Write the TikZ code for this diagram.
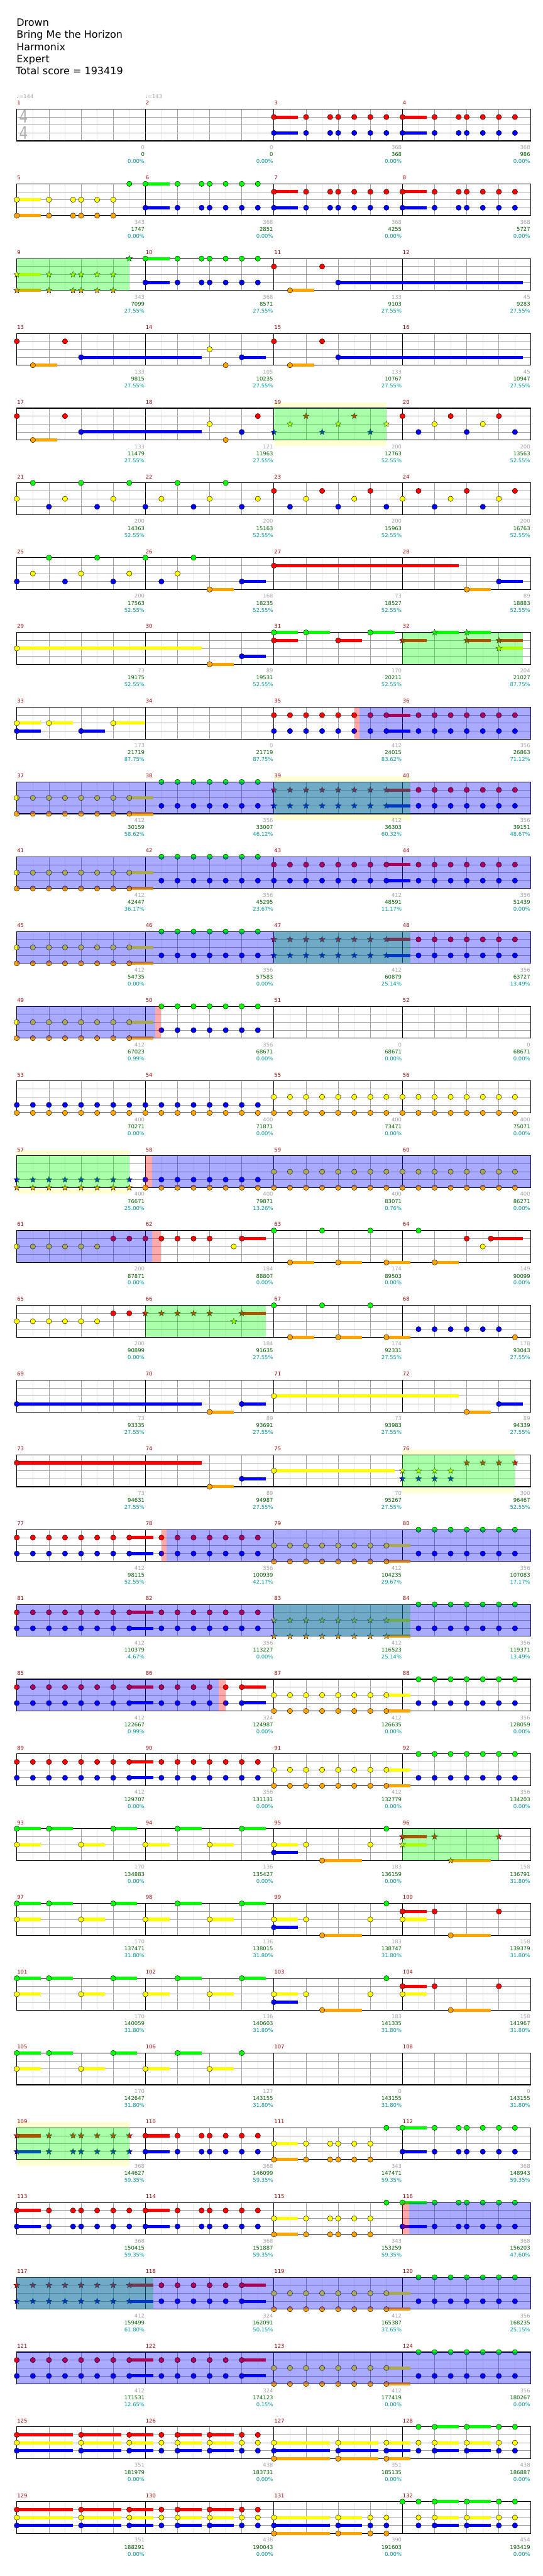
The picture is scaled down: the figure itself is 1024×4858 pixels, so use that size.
\documentclass[tikz,border=0pt]{standalone}
\usepackage{fontspec}
\setmainfont{DejaVu Sans}
\usetikzlibrary{shapes.geometric}
\definecolor{lane0}{RGB}{0,255,0}
\definecolor{lane1}{RGB}{255,0,0}
\definecolor{lane2}{RGB}{255,255,0}
\definecolor{lane3}{RGB}{0,0,255}
\definecolor{lane4}{RGB}{255,165,0}
\definecolor{mred}{RGB}{139,0,0}
\definecolor{sgray}{RGB}{165,165,165}
\definecolor{sgreen}{RGB}{0,100,0}
\definecolor{steal}{RGB}{0,155,155}
\definecolor{eighthc}{RGB}{225,225,225}
\definecolor{beatc}{RGB}{160,160,160}
\definecolor{paley}{RGB}{255,255,210}
\definecolor{tsgray}{RGB}{175,175,175}
\tikzset{
 note/.style={draw=black, line width=0.5pt},
 starn/.style={star, star points=5, star point ratio=2.4, minimum size=12pt, inner sep=0pt, draw=black, line width=0.4pt},
 eline/.style={draw=eighthc, line width=0.8pt},
 bline/.style={draw=beatc, line width=0.8pt},
 lline/.style={draw=beatc, line width=0.9pt},
 barl/.style={draw=black, line width=0.9pt},
 border/.style={draw=black, line width=1.3pt},
 odgreen/.style={fill=lane0, fill opacity=0.3333},
 odblue/.style={fill=lane3, fill opacity=0.3333},
 odred/.style={fill=lane1, fill opacity=0.3333},
 mnum/.style={font=\fontsize{10}{12}\selectfont, text=mred, inner sep=0pt, anchor=base west},
 gnum/.style={font=\fontsize{10}{12}\selectfont, text=sgray, inner sep=0pt, anchor=base east},
 cnum/.style={font=\fontsize{10}{12}\selectfont, text=sgreen, inner sep=0pt, anchor=base east},
 pnum/.style={font=\fontsize{10}{12}\selectfont, text=steal, inner sep=0pt, anchor=base east},
 titletext/.style={font=\fontsize{19}{22}\selectfont, inner sep=0pt, anchor=base west},
 tempotext/.style={font=\fontsize{10}{12}\selectfont, text=sgray, inner sep=0pt, anchor=base west},
 tsig/.style={font=\fontsize{33}{33}\selectfont, text=tsgray, inner sep=0pt},
}
\newcommand\Mpos[1]{%
  \pgfmathtruncatemacro\Mc{mod(#1-1,4)}%
  \pgfmathtruncatemacro\Mr{(#1-1)/4}%
  \pgfmathsetmacro\Mx{31.7+242.6*\Mc}%
  \pgfmathsetmacro\Mt{205.7+141*\Mr}}
\newcommand\Nt[3]{\Mpos{#1}\pgfmathsetmacro\Ly{\Mt+15*#2}%
  \foreach \q in {#3}{\filldraw[note, fill=lane#2] (\Mx+15.1625*\q,\Ly) circle[radius=5];}}
\newcommand\Sr[3]{\Mpos{#1}\pgfmathsetmacro\Ly{\Mt+15*#2}%
  \foreach \q in {#3}{\node[starn, fill=lane#2] at (\Mx+15.1625*\q,\Ly) {};}}
\newcommand\Su[4]{\Mpos{#1}\pgfmathsetmacro\Ly{\Mt+15*#2}%
  \fill[lane#2] (\Mx+15.1625*#3,\Ly-3) rectangle ++(15.1625*#4,6);}
\newcommand\Ov[4]{\Mpos{#2}\fill[#1] (\Mx+15.1625*#3,\Mt) rectangle (\Mx+15.1625*#4,\Mt+60);}
\newcommand\Py[3]{\Mpos{#1}\fill[paley] (\Mx+15.1625*#2,\Mt-10.5) rectangle (\Mx+15.1625*#3,\Mt+71.5);}
% patterns
\newcommand\Qa[2]{\Su{#1}{#2}{0}{3}\Nt{#1}{#2}{0,4,7,8,10,12,14}}
\newcommand\Qas[2]{\Su{#1}{#2}{0}{3}\Sr{#1}{#2}{0,4,7,8,10,12,14}}
\newcommand\Qb[2]{\Su{#1}{#2}{0}{3}\Nt{#1}{#2}{0,4,7,8,10,12}}
\newcommand\Qbs[2]{\Su{#1}{#2}{0}{3}\Sr{#1}{#2}{0,4,7,8,10,12}}
\newcommand\Qe[2]{\Su{#1}{#2}{14}{3}\Nt{#1}{#2}{0,2,4,6,8,10,12,14}}
\newcommand\Qes[2]{\Su{#1}{#2}{14}{3}\Sr{#1}{#2}{0,2,4,6,8,10,12,14}}
\newcommand\Qf[2]{\Nt{#1}{#2}{2,4,6,8,10,12,14}}
\newcommand\Qn[2]{\Nt{#1}{#2}{0,2,4,6,8,10,12,14}}
\newcommand\Qns[2]{\Sr{#1}{#2}{0,2,4,6,8,10,12,14}}
\newcommand\Qg[2]{\Su{#1}{#2}{12}{3}\Nt{#1}{#2}{2,4,6,8,10,12}}
\newcommand\Qh[2]{\Nt{#1}{1}{0,6}\Su{#1}{4}{2}{3}\Nt{#1}{4}{2}\Su{#1}{3}{8}{#2}\Nt{#1}{3}{8}}
\newcommand\Qi[1]{\Su{#1}{0}{0}{3}\Su{#1}{0}{4}{3}\Su{#1}{0}{12}{3}\Nt{#1}{0}{0,4,12}\Su{#1}{2}{0}{3}\Su{#1}{2}{8}{3}\Nt{#1}{2}{0,8}}
\newcommand\Qj[1]{\Su{#1}{0}{4}{3}\Su{#1}{0}{12}{3}\Nt{#1}{0}{4,12}\Su{#1}{2}{0}{3}\Su{#1}{2}{8}{3}\Nt{#1}{2}{0,8}}
\newcommand\Qk[1]{\Su{#1}{2}{0}{3}\Nt{#1}{2}{0,4,12}\Su{#1}{3}{0}{3}\Nt{#1}{3}{0}\Su{#1}{4}{6}{5}\Nt{#1}{4}{6}\Nt{#1}{0}{14}}
\newcommand\Ql[1]{\Su{#1}{1}{0}{3}\Nt{#1}{1}{0,4,12}\Su{#1}{2}{0}{3}\Nt{#1}{2}{0}\Su{#1}{4}{6}{5}\Nt{#1}{4}{6}}
\newcommand\Qm[1]{\Nt{#1}{2}{0,2,4,6,8,10}\Nt{#1}{1}{12,14}}
\newcommand\Qo[1]{\Nt{#1}{0}{0,6,12}\Su{#1}{4}{2}{3}\Su{#1}{4}{8}{3}\Su{#1}{4}{14}{3}\Nt{#1}{4}{2,8,14}}
\newcommand\Qq[1]{\Su{#1}{4}{8}{3}\Nt{#1}{4}{8}\Su{#1}{3}{12}{3}\Nt{#1}{3}{12}}
\newcommand\Qr[2]{\Su{#1}{#2}{0}{7}\Su{#1}{#2}{8}{5}\Su{#1}{#2}{14}{3}\Nt{#1}{#2}{0,8,14}}
\newcommand\Qs[2]{\Su{#1}{#2}{4}{3}\Su{#1}{#2}{8}{3}\Nt{#1}{#2}{2,4,8,12,14}}
\newcommand\Qt[2]{\Su{#1}{#2}{0}{7}\Su{#1}{#2}{8}{3}\Nt{#1}{#2}{0,8,12,14}}
\begin{document}
\begin{tikzpicture}[x=1pt,y=-1pt]
\useasboundingbox[fill=white] (0,0) rectangle (1024,4858);
% pale yellow backgrounds
\Py{19}{0}{14}\Py{39}{0}{17}\Py{57}{0}{14}\Py{76}{0}{14}\Py{109}{0}{14}
% staves
\foreach \r in {0,...,32}{
  \pgfmathsetmacro\Rt{205.7+141*\r}
  \fill[white] (31.7,\Rt) rectangle (1002.1,\Rt+60);
  \foreach \i in {1,3,...,31} \draw[eline] (31.7+30.325*\i,\Rt) -- ++(0,60);
  \foreach \i in {2,4,6,10,12,14,18,20,22,26,28,30} \draw[bline] (31.7+30.325*\i,\Rt) -- ++(0,60);
  \foreach \j in {1,2,3} \draw[lline] (31.7,\Rt+15*\j) -- (1002.1,\Rt+15*\j);
  \foreach \i in {8,16,24} \draw[barl] (31.7+30.325*\i,\Rt) -- ++(0,60);
  \draw[border] (31.7,\Rt) rectangle (1002.1,\Rt+60);
}
% time signature and tempo
\node[tsig] (ts1) at (44.5,220.3) {\scalebox{0.78}[1]{4}};
\node[tsig] (ts2) at (44.5,250.7) {\scalebox{0.78}[1]{4}};
\node[tempotext] (tp1) at (31,185.3) {♩=144};
\node[tempotext] (tp2) at (273.8,185.3) {♩=143};
% ---- notes ----
\Qa{3}{1}\Qa{3}{3}\Qa{4}{1}\Qa{4}{3}
\Qb{5}{2}\Qb{5}{4}\Nt{5}{0}{14}\Qa{6}{0}\Qa{6}{3}\Qa{7}{1}\Qa{7}{3}\Qa{8}{1}\Qa{8}{3}
\Qbs{9}{2}\Qbs{9}{4}\Sr{9}{0}{14}\Qa{10}{0}\Qa{10}{3}\Qh{11}{23}
\Qh{13}{15}\Nt{14}{2}{8}\Nt{14}{4}{10}\Su{14}{3}{12}{3}\Nt{14}{3}{12}\Qh{15}{23}
\Qh{17}{15}\Nt{18}{2}{8}\Nt{18}{4}{10}\Nt{18}{3}{12}\Nt{18}{1}{14}
\Sr{19}{3}{0,6,12}\Sr{19}{2}{2,8,14}\Sr{19}{1}{4,10}
\Nt{20}{1}{0,6,12}\Nt{20}{3}{2,8,14}\Nt{20}{2}{4,10}
\Nt{21}{2}{0,6,12}\Nt{21}{0}{2,8,14}\Nt{21}{3}{4,10}
\Nt{22}{3}{0,6,12}\Nt{22}{2}{2,8,14}\Nt{22}{0}{4,10}
\Nt{23}{1}{0,6,12}\Nt{23}{3}{2,8,14}\Nt{23}{2}{4,10}
\Nt{24}{2}{0,6,12}\Nt{24}{1}{2,8,14}\Nt{24}{3}{4,10}
\Nt{25}{3}{0,6,12}\Nt{25}{2}{2,8,14}\Nt{25}{0}{4,10}
\Nt{26}{0}{0,6}\Nt{26}{3}{2}\Nt{26}{2}{4}\Qq{26}
\Su{27}{1}{0}{23}\Nt{27}{1}{0}\Qq{28}
\Su{29}{2}{0}{23}\Nt{29}{2}{0}\Qq{30}
\Su{31}{0}{0}{3}\Su{31}{0}{4}{3}\Su{31}{0}{12}{3}\Nt{31}{0}{0,4,12}\Su{31}{1}{0}{3}\Su{31}{1}{8}{3}\Nt{31}{1}{0,8}
\Su{32}{1}{0}{3}\Su{32}{1}{8}{3}\Su{32}{1}{12}{3}\Sr{32}{1}{0,8,12}\Su{32}{0}{4}{3}\Su{32}{0}{8}{3}\Sr{32}{0}{4,8}\Su{32}{2}{12}{3}\Sr{32}{2}{12}
\Su{33}{2}{0}{3}\Su{33}{2}{4}{3}\Su{33}{2}{12}{4}\Nt{33}{2}{0,4,12}\Su{33}{3}{0}{3}\Su{33}{3}{8}{3}\Nt{33}{3}{0,8}
\Qe{35}{1}\Qe{35}{3}\Qf{36}{1}\Qf{36}{3}
\Qe{37}{2}\Qe{37}{4}\Qf{38}{0}\Qf{38}{3}\Qes{39}{1}\Qes{39}{3}\Qf{40}{1}\Qf{40}{3}
\Qe{41}{2}\Qe{41}{4}\Qf{42}{0}\Qf{42}{3}\Qe{43}{1}\Qe{43}{3}\Qf{44}{1}\Qf{44}{3}
\Qe{45}{2}\Qe{45}{4}\Qf{46}{0}\Qf{46}{3}\Qes{47}{1}\Qes{47}{3}\Qf{48}{1}\Qf{48}{3}
\Qe{49}{2}\Qe{49}{4}\Qf{50}{0}\Qf{50}{3}
\Qn{53}{3}\Qn{53}{4}\Qn{54}{3}\Qn{54}{4}\Qn{55}{2}\Qn{55}{4}\Qn{56}{2}\Qn{56}{4}
\Qns{57}{3}\Qns{57}{4}\Qn{58}{3}\Qn{58}{4}\Qn{59}{2}\Qn{59}{4}\Qn{60}{2}\Qn{60}{4}
\Qm{61}\Su{62}{1}{12}{3}\Nt{62}{1}{0,2,4,6,8,12}\Nt{62}{2}{11}\Qo{63}
\Nt{64}{0}{2}\Su{64}{4}{4}{3}\Nt{64}{4}{4}\Su{64}{1}{11}{4}\Nt{64}{1}{8,11}\Nt{64}{2}{10}
\Qm{65}\Su{66}{1}{12}{3}\Sr{66}{1}{0,2,4,6,8,12}\Sr{66}{2}{11}\Qo{67}
\Nt{68}{3}{2,4,6,8,10,12}\Nt{68}{4}{14}
\Su{69}{3}{0}{23}\Nt{69}{3}{0}\Qq{70}\Su{71}{2}{0}{23}\Nt{71}{2}{0}\Qq{72}
\Su{73}{1}{0}{23}\Nt{73}{1}{0}\Qq{74}\Su{75}{2}{0}{15}\Nt{75}{2}{0}
\Sr{76}{2}{0,2,4,6}\Sr{76}{3}{0,2,4,6}\Sr{76}{1}{8,10,12,14}
\Qe{77}{1}\Qe{77}{3}\Qf{78}{1}\Qf{78}{3}\Qe{79}{2}\Qe{79}{4}\Qf{80}{0}\Qf{80}{3}
\Qe{81}{1}\Qe{81}{3}\Qf{82}{1}\Qf{82}{3}\Qes{83}{2}\Qes{83}{4}\Qf{84}{0}\Qf{84}{3}
\Qe{85}{1}\Qe{85}{3}\Qg{86}{1}\Qg{86}{3}\Qe{87}{2}\Qe{87}{4}\Qf{88}{0}\Qf{88}{3}
\Qe{89}{1}\Qe{89}{3}\Qf{90}{1}\Qf{90}{3}\Qe{91}{2}\Qe{91}{4}\Qf{92}{0}\Qf{92}{3}
\Qi{93}\Qj{94}\Qk{95}
\Su{96}{1}{0}{3}\Sr{96}{1}{0,4,12}\Su{96}{2}{0}{3}\Sr{96}{2}{0}\Su{96}{4}{6}{5}\Sr{96}{4}{6}
\Qi{97}\Qj{98}\Qk{99}\Ql{100}
\Qi{101}\Qj{102}\Qk{103}\Ql{104}
\Qi{105}\Su{106}{0}{4}{3}\Nt{106}{0}{4,12}\Su{106}{2}{0}{3}\Su{106}{2}{8}{3}\Nt{106}{2}{0,8}
\Qas{109}{1}\Qas{109}{3}\Qa{110}{1}\Qa{110}{3}\Qb{111}{2}\Qb{111}{4}\Nt{111}{0}{14}\Qa{112}{0}\Qa{112}{3}
\Qa{113}{1}\Qa{113}{3}\Qa{114}{1}\Qa{114}{3}\Qb{115}{2}\Qb{115}{4}\Nt{115}{0}{14}\Qa{116}{0}\Qa{116}{3}
\Qes{117}{1}\Qes{117}{3}\Qg{118}{1}\Qg{118}{3}\Qe{119}{2}\Qe{119}{4}\Qf{120}{0}\Qf{120}{3}
\Qe{121}{1}\Qe{121}{3}\Qg{122}{1}\Qg{122}{3}\Qe{123}{2}\Qe{123}{4}\Qf{124}{0}\Qf{124}{3}
\Qr{125}{1}\Qr{125}{2}\Qr{125}{3}\Qs{126}{1}\Qs{126}{2}\Qs{126}{3}
\Qr{127}{2}\Qr{127}{3}\Qr{127}{4}\Qs{128}{0}\Qs{128}{2}\Qs{128}{3}
\Qr{129}{1}\Qr{129}{2}\Qr{129}{3}\Qs{130}{1}\Qs{130}{2}\Qs{130}{3}
\Qt{131}{2}\Qt{131}{3}\Qt{131}{4}
\Su{132}{0}{4}{3}\Su{132}{0}{8}{3}\Nt{132}{0}{0,2,4,8,12,14}\Qs{132}{2}\Qs{132}{3}
% ---- overlays ----
\Ov{odgreen}{9}{0}{14}\Ov{odgreen}{19}{0}{14}\Ov{odgreen}{32}{0}{15}\Ov{odgreen}{39}{0}{17}
\Ov{odgreen}{47}{0}{17}\Ov{odgreen}{57}{0}{14}\Ov{odgreen}{66}{0}{15}\Ov{odgreen}{76}{0}{14}
\Ov{odgreen}{83}{0}{17}\Ov{odgreen}{96}{0}{12}\Ov{odgreen}{109}{0}{14}\Ov{odgreen}{117}{0}{17}
\Ov{odblue}{35}{10.65}{32}\Ov{odblue}{37}{0}{64}\Ov{odblue}{41}{0}{64}\Ov{odblue}{45}{0}{64}
\Ov{odblue}{49}{0}{17.2}\Ov{odblue}{58}{0.85}{48}\Ov{odblue}{61}{0}{16.85}\Ov{odblue}{78}{2.6}{48}
\Ov{odblue}{81}{0}{64}\Ov{odblue}{85}{0}{25.1}\Ov{odblue}{116}{0.87}{16}\Ov{odblue}{117}{0}{64}
\Ov{odblue}{121}{0}{64}
\Ov{odred}{35}{10}{10.65}\Ov{odred}{50}{1.2}{1.93}\Ov{odred}{58}{0}{0.85}\Ov{odred}{62}{0.85}{1.93}
\Ov{odred}{78}{2}{2.6}\Ov{odred}{86}{9.1}{10}\Ov{odred}{116}{0}{0.87}
% ---- title ----
\node[titletext] (t1) at (31,49.3) {Drown};
\node[titletext] (t2) at (31,72.1) {Bring Me the Horizon};
\node[titletext] (t3) at (31,94.9) {Harmonix};
\node[titletext] (t4) at (31,117.7) {Expert};
\node[titletext] (t5) at (30,140.5) {Total score = 193419};
% ---- measure labels ----
\foreach \m/\ga/\gb/\gc in {1/0/0/0.00,2/0/0/0.00,3/368/368/0.00,4/368/986/0.00,
5/343/1747/0.00,6/368/2851/0.00,7/368/4255/0.00,8/368/5727/0.00,
9/343/7099/27.55,10/368/8571/27.55,11/133/9103/27.55,12/45/9283/27.55,
13/133/9815/27.55,14/105/10235/27.55,15/133/10767/27.55,16/45/10947/27.55,
17/133/11479/27.55,18/121/11963/27.55,19/200/12763/52.55,20/200/13563/52.55,
21/200/14363/52.55,22/200/15163/52.55,23/200/15963/52.55,24/200/16763/52.55,
25/200/17563/52.55,26/168/18235/52.55,27/73/18527/52.55,28/89/18883/52.55,
29/73/19175/52.55,30/89/19531/52.55,31/170/20211/52.55,32/204/21027/87.75,
33/173/21719/87.75,34/0/21719/87.75,35/412/24015/83.62,36/356/26863/71.12,
37/412/30159/58.62,38/356/33007/46.12,39/412/36303/60.32,40/356/39151/48.67,
41/412/42447/36.17,42/356/45295/23.67,43/412/48591/11.17,44/356/51439/0.00,
45/412/54735/0.00,46/356/57583/0.00,47/412/60879/25.14,48/356/63727/13.49,
49/412/67023/0.99,50/356/68671/0.00,51/0/68671/0.00,52/0/68671/0.00,
53/400/70271/0.00,54/400/71871/0.00,55/400/73471/0.00,56/400/75071/0.00,
57/400/76671/25.00,58/400/79871/13.26,59/400/83071/0.76,60/400/86271/0.00,
61/200/87871/0.00,62/184/88807/0.00,63/174/89503/0.00,64/149/90099/0.00,
65/200/90899/0.00,66/184/91635/27.55,67/174/92331/27.55,68/178/93043/27.55,
69/73/93335/27.55,70/89/93691/27.55,71/73/93983/27.55,72/89/94339/27.55,
73/73/94631/27.55,74/89/94987/27.55,75/70/95267/27.55,76/300/96467/52.55,
77/412/98115/52.55,78/356/100939/42.17,79/412/104235/29.67,80/356/107083/17.17,
81/412/110379/4.67,82/356/113227/0.00,83/412/116523/25.14,84/356/119371/13.49,
85/412/122667/0.99,86/324/124987/0.00,87/412/126635/0.00,88/356/128059/0.00,
89/412/129707/0.00,90/356/131131/0.00,91/412/132779/0.00,92/356/134203/0.00,
93/170/134883/0.00,94/136/135427/0.00,95/183/136159/0.00,96/158/136791/31.80,
97/170/137471/31.80,98/136/138015/31.80,99/183/138747/31.80,100/158/139379/31.80,
101/170/140059/31.80,102/136/140603/31.80,103/183/141335/31.80,104/158/141967/31.80,
105/170/142647/31.80,106/127/143155/31.80,107/0/143155/31.80,108/0/143155/31.80,
109/368/144627/59.35,110/368/146099/59.35,111/343/147471/59.35,112/368/148943/59.35,
113/368/150415/59.35,114/368/151887/59.35,115/343/153259/59.35,116/368/156203/47.60,
117/412/159499/61.80,118/324/162091/50.15,119/412/165387/37.65,120/356/168235/25.15,
121/412/171531/12.65,122/324/174123/0.15,123/412/177419/0.00,124/356/180267/0.00,
125/351/181979/0.00,126/438/183731/0.00,127/351/185135/0.00,128/438/186887/0.00,
129/351/188291/0.00,130/438/190043/0.00,131/390/191603/0.00,132/454/193419/0.00}{
  \Mpos{\m}
  \node[mnum] (mn\m) at (\Mx+0.5,\Mt-8) {\m};
  \node[gnum] (sa\m) at (\Mx+241.3,\Mt+76) {\ga};
  \node[cnum] (sb\m) at (\Mx+241.3,\Mt+89.3) {\gb};
  \node[pnum] (sc\m) at (\Mx+241.3,\Mt+102.3) {\gc\%};
}
\end{tikzpicture}
\end{document}
